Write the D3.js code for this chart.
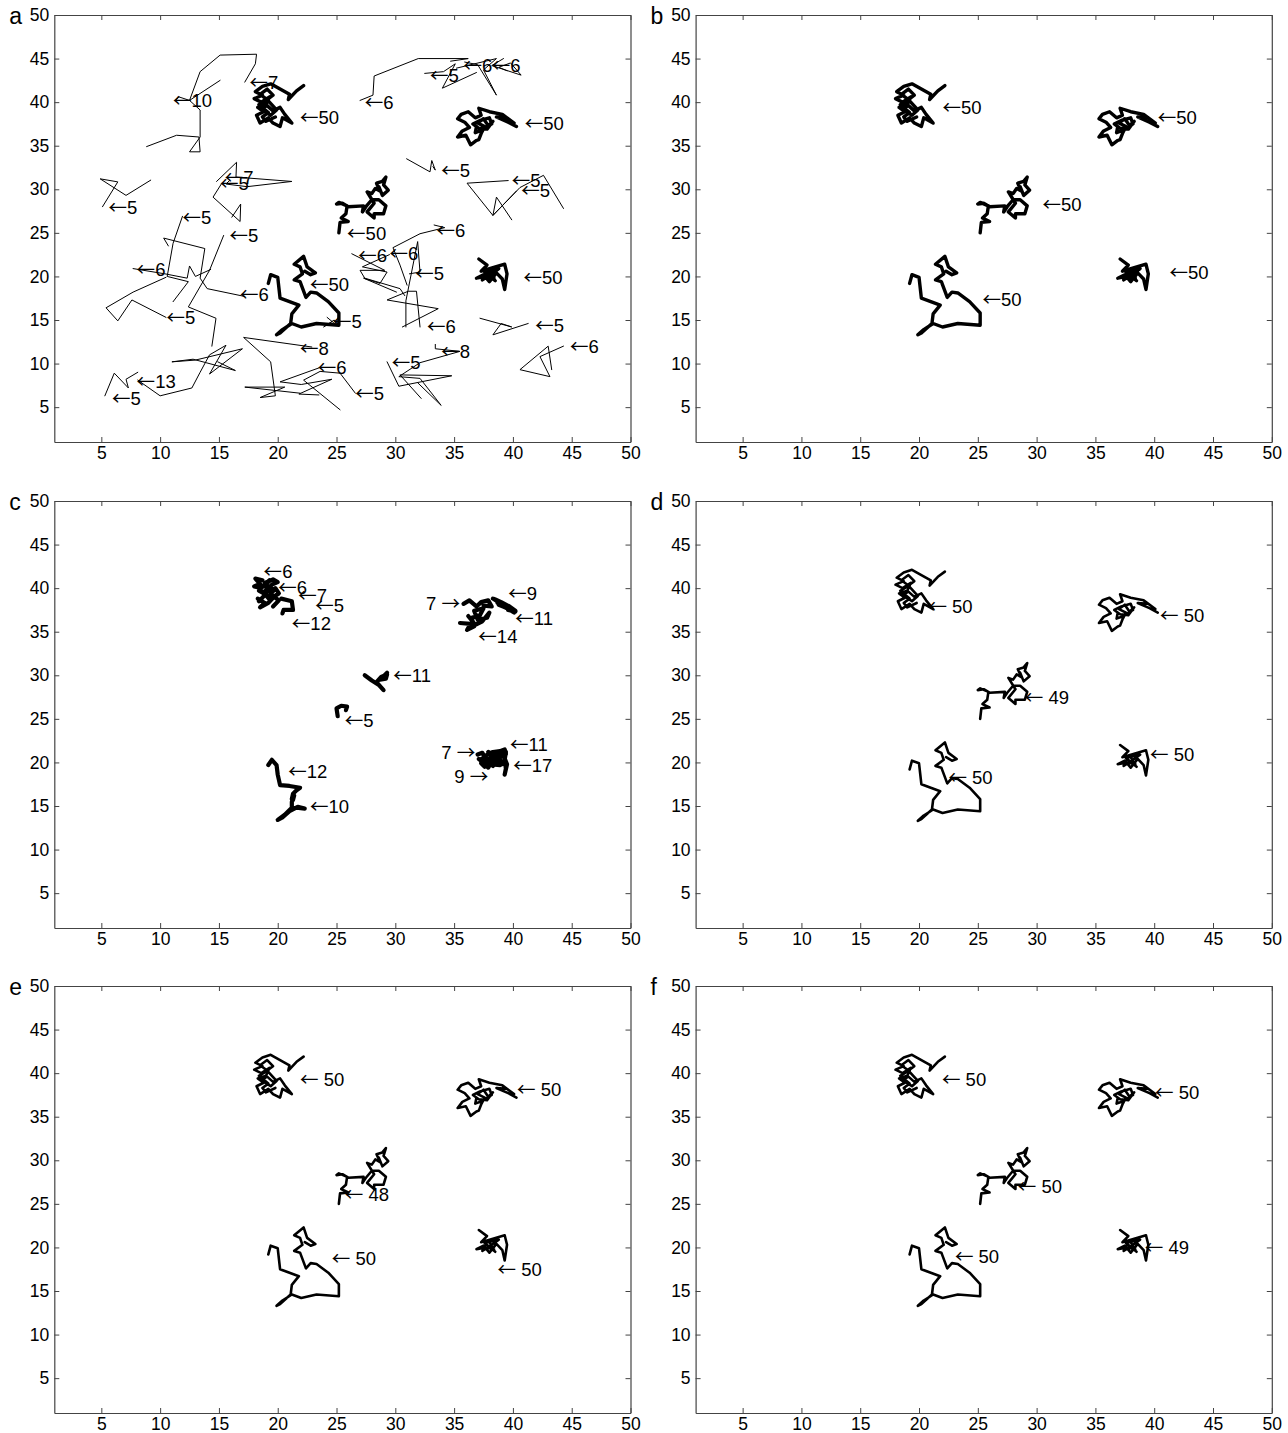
<!DOCTYPE html>
<html>
<head>
<meta charset="utf-8">
<script src="https://cdn.jsdelivr.net/npm/d3@7"></script>
<style>
body { margin: 0; background: #fff; }
text { font-family: "Liberation Sans", Arial, Helvetica, sans-serif; }
</style>
</head>
<body>
<div id="chart"></div>
<script>
//////////////////////////////////////////////////////////////////////////////
// data

var ticks = [5, 10, 15, 20, 25, 30, 35, 40, 45, 50];

// the five long tracks (x, y in grid units)
var trackA = [[22.2,41.9],[21.6,41.3],[20.9,40.3],[21.0,40.9],[20.2,41.5],[19.4,42.1],[18.7,41.8],[18.1,41.2],
  [18.7,40.8],[18.0,40.4],[18.6,40.0],[19.3,40.6],[19.0,39.7],[18.3,39.4],[18.8,38.9],[18.2,38.5],[18.5,37.6],
  [19.2,38.2],[19.6,37.6],[20.2,37.2],[20.4,38.2],[21.2,37.6],[20.6,38.6],[20.2,39.4],[19.6,39.0],[19.1,39.6],
  [18.6,39.2],[19.4,38.5],[19.9,39.1],[19.1,40.3],[18.5,40.9],[19.1,41.5],[19.6,40.8],[18.9,40.1],[18.4,39.7],
  [19.2,38.8],[18.7,38.3],[19.0,37.8],[19.8,38.3]];
var trackB = [[40.3,37.2],[39.6,37.7],[38.6,38.3],[39.5,38.2],[40.1,37.6],[39.1,38.6],[38.0,38.9],[37.1,39.3],
  [37.3,38.5],[36.8,38.2],[36.2,38.9],[35.6,38.6],[35.3,38.1],[35.9,37.7],[36.3,37.1],[35.7,36.7],[35.3,36.0],
  [36.0,36.2],[36.4,35.1],[36.9,35.6],[37.1,35.7],[37.3,36.4],[37.6,37.2],[37.0,37.6],[37.5,38.1],[37.9,37.3],
  [38.3,37.8],[37.8,36.9],[37.1,37.0],[36.6,37.5],[37.2,37.9],[38.0,38.2],[38.2,37.5],[37.4,36.8],[36.8,36.5],[36.9,37.2]];
var trackC = [[25.2,25.0],[25.3,26.2],[26.0,26.3],[25.4,26.7],[25.8,27.2],[25.9,28.1],[25.2,28.5],[25.0,28.3],
  [25.5,28.4],[26.0,28.0],[27.3,28.1],[27.2,27.4],[27.5,28.0],[28.0,28.8],[28.6,28.8],[29.2,28.1],[29.0,27.2],
  [28.2,27.2],[28.2,26.7],[27.6,27.4],[28.2,28.4],[27.6,29.7],[28.0,29.5],[28.3,30.1],[28.7,29.8],[28.4,30.7],
  [28.9,30.9],[29.2,31.4],[29.0,30.5],[29.4,29.9],[28.9,29.3],[28.6,30.3]];
var trackD = [[19.2,19.2],[19.4,20.2],[20.0,19.9],[20.2,17.5],[21.8,16.7],[21.2,15.7],[21.1,14.6],[20.2,13.5],
  [19.9,13.3],[20.4,13.9],[21.2,14.6],[22.0,14.2],[23.3,14.6],[25.2,14.4],[25.2,15.8],[24.3,17.1],[23.3,18.1],
  [22.8,18.2],[22.4,17.6],[21.9,19.4],[21.4,19.6],[22.1,20.3],[21.9,21.1],[21.4,21.4],[22.2,22.3],[22.5,21.1],
  [23.2,20.4],[22.8,20.2],[22.3,20.6]];
var trackE = [[37.1,22.0],[37.8,21.3],[37.3,20.6],[38.3,21.0],[39.3,21.4],[39.5,20.3],[39.3,18.5],[39.1,19.7],
  [38.6,20.4],[38.0,19.4],[37.5,20.2],[36.9,19.8],[37.7,20.0],[38.4,19.8],[37.9,20.8],[37.4,19.6],[38.2,20.3],
  [38.8,20.9],[37.6,20.5],[38.5,19.5]];

// short tracks of panel a: track length label, arrow tip, points
var shortNames = ["7","10","5","7","5","5","5","6","6","5","5","13","8","6","5","5","6","6","6","5","6","5","8","5","6","6","5","6","6","5","5","5"];
var shortTips = [[17.6,42.2],[11.1,40.2],[5.6,27.9],[15.5,31.3],[15.1,30.7],[11.9,26.8],[15.9,24.7],[8.0,20.8],
  [16.8,17.9],[10.55,15.3],[5.9,6.0],[8.0,7.9],[21.9,11.7],[23.4,9.5],[26.6,6.6],[24.7,14.8],[33.5,25.3],
  [29.5,22.6],[26.85,22.4],[31.7,20.3],[32.7,14.2],[29.7,10.1],[33.9,11.4],[41.9,14.4],[44.85,11.9],[27.4,40.0],
  [32.95,43.1],[35.8,44.2],[38.2,44.2],[33.9,32.2],[39.9,31.0],[40.7,29.9]];
var shortPts = [
  [[17.2,42.3],[18.1,44.4],[18.2,45.5],[15.1,45.4],[13.4,43.5],[12.5,40.2],[15.1,42.5]],
  [[11.3,40.2],[11.6,40.6],[12.5,40.2],[13.4,39.1],[13.4,36.0],[12.5,34.3],[13.4,34.3],[13.3,36.0],[11.4,36.2],[8.85,34.9]],
  [[9.2,31.05],[7.1,29.3],[4.9,31.2],[6.4,30.85],[5.1,28.0]],
  [[14.8,30.9],[16.5,33.1],[16.45,31.4],[21.2,30.9],[17.4,30.3],[15.6,30.6],[15.9,31.0]],
  [[15.2,30.6],[14.5,29.1],[16.8,26.3],[16.85,28.3],[16.1,26.8]],
  [[11.9,26.9],[11.1,23.8],[10.6,20.0],[12.4,19.4],[11.1,17.1]],
  [[15.4,24.7],[14.2,20.7],[12.4,16.5],[14.75,15.2],[14.4,12.0]],
  [[7.7,20.9],[10.4,20.3],[12.3,19.8],[12.5,21.2],[13.0,20.0],[14.3,20.8]],
  [[17.2,17.7],[14.0,18.6],[13.4,19.8],[13.8,23.2],[10.3,24.4],[10.7,23.5]],
  [[10.5,15.3],[7.6,17.3],[6.4,14.9],[5.4,16.4],[7.7,18.2],[10.5,19.9]],
  [[5.3,6.3],[6.1,8.9],[7.3,7.2],[7.1,8.2],[8.1,9.0]],
  [[8.1,8.1],[10.0,6.3],[12.7,7.2],[13.4,9.0],[14.2,11.0],[15.6,12.1],[14.2,8.8],[17.0,11.7],[13.0,10.4],[11.0,10.2],[12.8,10.5],[16.4,9.2],[14.9,10.2]],
  [[22.9,11.9],[17.1,13.0],[19.4,10.2],[19.8,6.3],[18.5,6.1],[20.6,7.3],[17.2,7.3],[21.9,6.6]],
  [[23.5,9.5],[20.2,7.9],[22.0,7.6],[24.6,8.2],[21.8,6.5],[23.5,6.4]],
  [[26.6,6.6],[25.3,8.9],[23.6,9.1],[22.2,8.1],[25.3,4.7]],
  [[24.6,14.8],[23.9,14.2],[24.8,15.0],[25.0,14.4],[24.2,15.3]],
  [[33.3,25.9],[34.2,25.6],[32.1,24.9],[29.8,23.3],[30.4,21.3],[31.0,19.0]],
  [[29.5,22.5],[27.2,21.1],[29.3,20.5],[28.7,19.2],[27.3,19.8],[30.1,18.2]],
  [[26.3,22.6],[29.1,20.7],[27.0,20.7],[27.4,19.8],[30.4,18.6],[30.8,17.8]],
  [[31.2,20.3],[32.1,20.5],[31.9,24.0],[30.9,17.2],[30.9,14.2]],
  [[32.1,14.2],[31.8,18.3],[31.1,18.3],[29.3,17.3],[33.65,16.3],[30.6,14.2]],
  [[29.3,10.2],[30.3,7.4],[34.8,8.6],[30.4,8.7],[32.2,6.0]],
  [[33.4,12.2],[33.4,11.7],[35.5,11.4],[32.1,10.1],[30.3,8.5],[32.1,8.3],[33.9,5.2],[31.9,7.8]],
  [[41.3,14.6],[38.3,13.3],[39.0,14.6],[39.9,14.2],[37.2,15.2]],
  [[44.3,12.0],[42.3,10.8],[43.15,8.5],[40.6,9.3],[43.0,12.0],[43.3,9.3]],
  [[27.0,40.2],[28.1,40.8],[28.2,43.0],[31.95,45.0],[36.2,45.0],[34.7,44.7]],
  [[32.5,43.3],[34.1,43.5],[35.1,44.4],[34.0,41.6],[36.9,43.4]],
  [[35.2,43.9],[38.6,45.0],[37.5,43.7],[38.6,40.8],[37.0,44.3],[35.9,44.6]],
  [[39.2,45.0],[38.2,44.2],[40.7,43.1],[39.8,44.5],[38.8,44.0],[39.5,43.6]],
  [[30.96,33.5],[32.95,32.0],[33.1,33.3],[33.4,32.2],[33.2,32.6]],
  [[39.6,31.0],[36.1,30.7],[38.3,27.0],[38.6,29.1],[39.9,26.5]],
  [[40.3,29.8],[38.3,27.0],[40.6,30.2],[42.6,31.6],[44.3,27.8]]
];

// pieces of panel c
var fragNames = ["6","6","7","5","12","7","9","11","14","11","5","12","10","7","11","17","9"];
var fragTips = [[18.8,41.9],[20.05,40.1],[21.75,39.2],[23.2,38.0],[21.2,35.9],[35.5,38.2],[39.6,39.4],[40.2,36.5],
  [37.06,34.5],[29.83,30.0],[25.7,24.85],[20.9,18.9],[22.74,14.9],[36.8,21.1],[39.75,22.1],[40.03,19.6],[37.9,18.35]];
var fragRight = [0,0,0,0,0,1,0,0,0,0,0,0,0,1,0,0,1]; // 1 = label on the left, arrow pointing right
var fragPts = [
  [[18.7,40.9],[18.1,41.1],[18.5,40.5],[18.0,40.2],[18.6,40.0],[19.0,40.6]],
  [[19.3,40.9],[18.9,40.2],[19.6,39.9],[19.0,39.5],[18.4,39.7],[19.2,39.1]],
  [[18.3,38.8],[18.9,38.3],[18.5,37.8],[19.2,38.3],[19.6,38.9],[18.9,39.2],[18.4,38.5]],
  [[20.3,38.8],[21.2,38.5],[21.3,37.5],[20.5,37.5],[20.4,37.1]],
  [[19.6,37.9],[20.1,38.6],[19.4,39.3],[19.8,40.0],[20.1,39.4],[19.3,38.7],[18.8,39.5],[19.5,40.4],[20.0,40.7],[19.6,41.0],[18.9,40.6],[19.4,39.8]],
  [[35.8,38.2],[36.3,38.6],[36.9,37.9],[37.3,38.4],[37.9,38.6],[38.2,37.9],[37.5,38.0]],
  [[38.5,38.7],[39.0,38.4],[39.7,37.9],[40.2,37.4],[39.4,38.0],[38.8,38.5],[38.3,38.8],[39.0,38.2],[39.6,37.6]],
  [[40.1,37.2],[39.5,37.7],[38.8,38.1],[39.4,37.9],[40.0,37.5],[39.3,37.8],[38.7,38.3],[39.2,38.0],[39.8,37.6],[40.2,37.3],[39.6,37.5]],
  [[35.5,36.0],[36.4,35.9],[36.1,35.2],[36.7,35.6],[36.5,36.6],[37.2,36.9],[37.5,37.7],[36.7,37.4],[37.0,36.4],[37.8,36.6],[38.0,37.2],[37.4,36.2],[36.8,35.8],[36.2,36.8]],
  [[27.4,30.0],[28.0,29.4],[28.6,28.9],[29.0,28.3],[28.4,29.2],[28.8,29.8],[29.3,30.1],[29.2,29.6],[28.7,29.5],[29.3,30.3],[28.9,29.6]],
  [[25.1,25.3],[25.0,26.2],[25.4,26.5],[25.9,26.4],[25.8,26.0]],
  [[19.2,19.7],[19.5,20.3],[19.9,19.7],[20.0,18.6],[20.2,17.4],[21.0,17.3],[21.9,17.1],[21.6,16.8],[21.3,16.4],[21.2,15.8],[21.4,16.2],[21.3,15.7]],
  [[21.2,15.5],[21.2,14.8],[20.6,14.0],[20.0,13.4],[20.4,13.7],[21.0,14.4],[21.7,14.9],[22.3,14.7],[21.6,14.8],[21.2,14.7]],
  [[37.0,20.9],[37.4,21.1],[37.6,20.6],[37.2,20.3],[37.8,20.5],[37.5,20.0],[37.1,20.4]],
  [[37.8,20.9],[38.3,21.2],[38.9,21.3],[39.3,21.5],[39.4,21.0],[38.6,21.1],[38.2,20.6],[37.9,21.2],[38.5,20.8],[39.2,21.3],[38.8,20.7]],
  [[39.4,21.2],[39.3,20.3],[39.4,19.3],[39.3,18.6],[39.5,19.8],[39.2,20.8],[38.7,20.4],[38.3,20.0],[37.8,19.7],[38.2,20.4],[38.6,19.9],[39.1,20.1],[38.4,20.6],[37.7,20.2],[38.0,19.8],[38.9,19.7],[39.4,20.0]],
  [[37.6,19.6],[37.9,20.0],[38.3,19.6],[37.7,20.3],[38.1,20.5],[37.3,19.9],[37.6,19.5],[38.2,20.1],[37.9,19.4]]
];

// labels for the five long tracks, panel by panel (order A, B, C, D, E)
var longNamesA = ["50","50","50","50","50"];
var longTipsA = [[21.9,38.2],[41.0,37.6],[25.9,24.9],[22.75,19.1],[40.9,19.9]];
var longNamesB = ["50","50","50","50","50"];
var longTipsB = [[22.0,39.4],[40.3,38.2],[30.5,28.2],[25.4,17.3],[41.3,20.5]];
var longNamesD = ["50","50","49","50","50"];
var longTipsD = [[20.8,37.9],[40.5,36.9],[29.0,27.4],[22.5,18.3],[39.65,20.9]];
var longNamesE = ["50","50","48","50","50"];
var longTipsE = [[21.9,39.3],[40.35,38.1],[25.7,26.1],[24.6,18.7],[38.7,17.5]];
var longNamesF = ["50","50","50","50","49"];
var longTipsF = [[21.95,39.3],[40.07,37.8],[28.4,27.0],[23.05,19.0],[39.2,20.0]];

//////////////////////////////////////////////////////////////////////////////
// layout

var svgW = 1288, svgH = 1433;
var plotW = 576.2, plotH = 427;
var colX = [54.3, 695.6], rowY = [15, 501, 986];
var tickFont = 17.5, labelFont = 18.5;
var arrowFont = "Noto Sans CJK JP, DejaVu Sans, sans-serif";

var svg = d3.select("#chart").append("svg")
    .attr("width", svgW)
    .attr("height", svgH);

var xScale = d3.scaleLinear().domain([1, 50]).range([0, plotW]);
var yScale = d3.scaleLinear().domain([1, 50]).range([plotH, 0]);
var line = d3.line().x(function(d) { return xScale(d[0]); }).y(function(d) { return yScale(d[1]); });

function makePanel(col, row, letter) {
    var g = svg.append("g")
        .attr("transform", "translate(" + colX[col] + "," + rowY[row] + ")");

    g.append("text").attr("x", -45).attr("y", 9)
        .attr("font-size", 23).attr("fill", "#000").text(letter);

    var bottom = g.append("g").attr("transform", "translate(0," + plotH + ")")
        .call(d3.axisBottom(xScale).tickValues(ticks).tickSizeInner(-5).tickSizeOuter(0).tickPadding(5));
    var left = g.append("g")
        .call(d3.axisLeft(yScale).tickValues(ticks).tickSizeInner(-5).tickSizeOuter(0).tickPadding(5));
    var top = g.append("g")
        .call(d3.axisTop(xScale).tickValues(ticks).tickSizeInner(-5).tickSizeOuter(0).tickFormat(""));
    var right = g.append("g").attr("transform", "translate(" + plotW + ",0)")
        .call(d3.axisRight(yScale).tickValues(ticks).tickSizeInner(-5).tickSizeOuter(0).tickFormat(""));

    [bottom, left, top, right].forEach(function(a) {
        a.select(".domain").attr("stroke", "#444").attr("stroke-width", 1.2);
        a.selectAll(".tick line").attr("stroke", "#444");
        a.selectAll(".tick text").attr("font-size", tickFont).attr("fill", "#000")
            .attr("font-family", "Liberation Sans, Arial, sans-serif");
    });
    return g;
}

function drawTracks(g, tracks, width) {
    g.append("g").selectAll("path")
        .data(tracks)
        .enter()
        .append("path")
        .attr("d", line)
        .attr("fill", "none")
        .attr("stroke", "#000")
        .attr("stroke-width", width)
        .attr("stroke-linejoin", "round")
        .attr("stroke-linecap", "round");
}

function drawLabels(g, names, tips, gap, pointRight) {
    var t = g.append("g").selectAll("text")
        .data(names)
        .enter()
        .append("text")
        .attr("x", function(d, i) { return xScale(tips[i][0]); })
        .attr("y", function(d, i) { return yScale(tips[i][1]); })
        .attr("dy", "0.35em")
        .attr("font-size", labelFont)
        .attr("fill", "#000")
        .attr("text-anchor", function(d, i) { return pointRight && pointRight[i] ? "end" : "start"; });

    t.each(function(d, i) {
        var el = d3.select(this);
        if (pointRight && pointRight[i]) {
            el.append("tspan").text(d + " ");
            el.append("tspan").attr("font-family", arrowFont).text("\u2192");
        } else {
            el.append("tspan").attr("font-family", arrowFont).text("\u2190");
            el.append("tspan").text(gap + d);
        }
    });
}

var longTracks = [trackA, trackB, trackC, trackD, trackE];

// a
var pa = makePanel(0, 0, "a");
drawTracks(pa, shortPts, 1);
drawTracks(pa, longTracks, 3.4);
drawLabels(pa, shortNames, shortTips, "");
drawLabels(pa, longNamesA, longTipsA, "");

// b
var pb = makePanel(1, 0, "b");
drawTracks(pb, longTracks, 3.4);
drawLabels(pb, longNamesB, longTipsB, "");

// c
var pc = makePanel(0, 1, "c");
drawTracks(pc, fragPts, 4.2);
drawLabels(pc, fragNames, fragTips, "", fragRight);

// d
var pd = makePanel(1, 1, "d");
drawTracks(pd, longTracks, 2.6);
drawLabels(pd, longNamesD, longTipsD, " ");

// e
var pe = makePanel(0, 2, "e");
drawTracks(pe, longTracks, 2.6);
drawLabels(pe, longNamesE, longTipsE, " ");

// f
var pf = makePanel(1, 2, "f");
drawTracks(pf, longTracks, 2.6);
drawLabels(pf, longNamesF, longTipsF, " ");
</script>
</body>
</html>
